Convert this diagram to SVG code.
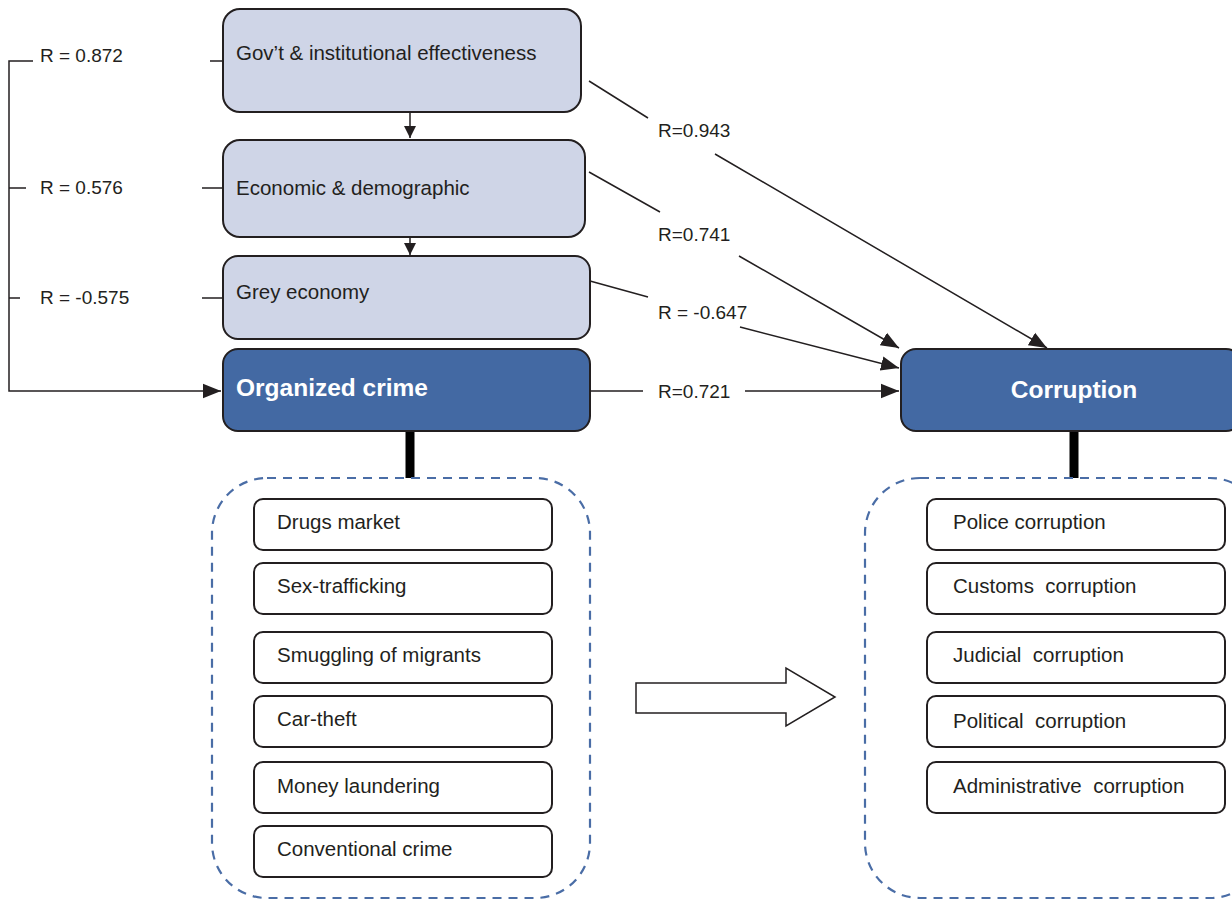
<svg xmlns="http://www.w3.org/2000/svg" width="1232" height="899" viewBox="0 0 1232 899">
<style>
text{font-family:"Liberation Sans",Arial,sans-serif;fill:#231f20;white-space:pre}
.lbl{font-size:20.5px}
.r{font-size:19px}
.light{fill:#cfd5e7;stroke:#231f20;stroke-width:2}
.dark{fill:#4369a3;stroke:#231f20;stroke-width:2}
.title{font-size:24.5px;font-weight:bold;fill:#ffffff}
.item{fill:#ffffff;stroke:#231f20;stroke-width:2}
.dash{fill:none;stroke:#4a6da6;stroke-width:2.2;stroke-dasharray:9 7}
.ln{fill:none;stroke:#231f20;stroke-width:1.5}
.bar{stroke:#000;stroke-width:9}
</style>
<defs>
<marker id="ah" viewBox="0 0 10 10" refX="10" refY="5" markerWidth="12" markerHeight="12" markerUnits="userSpaceOnUse" orient="auto">
<path d="M0,0 L10,5 L0,10 z" fill="#231f20"/>
</marker>
<marker id="ahL" viewBox="0 0 10 10" refX="10" refY="5" markerWidth="18" markerHeight="18" markerUnits="userSpaceOnUse" orient="auto">
<path d="M0,1 L10,5 L0,9 z" fill="#231f20"/>
</marker>
</defs>

<g id="connectors">
<path class="ln" d="M410,112 V138" marker-end="url(#ah)"/>
<path class="ln" d="M410,237 V255" marker-end="url(#ah)"/>
<path class="ln" d="M33,61 H9 V391 H221" marker-end="url(#ahL)"/>
<path class="ln" d="M9,188 H26 M9,298 H20"/>
<path class="ln" d="M210,61 H223 M202,188 H223 M202,298 H223"/>
<path class="ln" d="M589,81 L648,118 M715,154 L1047,348" marker-end="url(#ahL)"/>
<path class="ln" d="M589,172 L660,212 M739,256 L899,348" marker-end="url(#ahL)"/>
<path class="ln" d="M590,281 L648,297 M740,327 L899,368" marker-end="url(#ahL)"/>
<path class="ln" d="M590,391 L643,391 M745,391 L899,391" marker-end="url(#ahL)"/>
<text class="r" x="40" y="62">R = 0.872</text>
<text class="r" x="40" y="194">R = 0.576</text>
<text class="r" x="40" y="304">R = -0.575</text>
<text class="r" x="658" y="137">R=0.943</text>
<text class="r" x="658" y="241">R=0.741</text>
<text class="r" x="658" y="319">R = -0.647</text>
<text class="r" x="658" y="398">R=0.721</text>
<line class="bar" x1="410" y1="431" x2="410" y2="478"/>
<line class="bar" x1="1074" y1="431" x2="1074" y2="478"/>
<path d="M636,683 H786 V668 L835,697 L786,726 V713 H636 Z" fill="#ffffff" stroke="#231f20" stroke-width="1.5"/>
</g>

<g id="gov"><rect class="light" x="223" y="9" width="358" height="103" rx="17"/><text class="lbl" x="236" y="60">Gov’t &amp; institutional effectiveness</text></g>
<g id="econ"><rect class="light" x="223" y="140" width="362" height="97" rx="17"/><text class="lbl" x="236" y="195">Economic &amp; demographic</text></g>
<g id="grey"><rect class="light" x="223" y="256" width="367" height="83" rx="15"/><text class="lbl" x="236" y="299">Grey economy</text></g>
<g id="orgcrime"><rect class="dark" x="223" y="349" width="367" height="82" rx="15"/><text class="title" x="236" y="396">Organized crime</text></g>
<g id="corruption"><rect class="dark" x="901" y="349" width="340" height="82" rx="15"/><text class="title" x="1074" y="398" text-anchor="middle">Corruption</text></g>

<g id="crime-group">
<rect class="dash" x="212" y="478" width="378" height="420" rx="55"/>
<g id="drugs"><rect class="item" x="254" y="499" width="298" height="51" rx="9"/><text class="lbl" x="277" y="529">Drugs market</text></g>
<g id="sex"><rect class="item" x="254" y="563" width="298" height="51" rx="9"/><text class="lbl" x="277" y="593">Sex-trafficking</text></g>
<g id="smuggling"><rect class="item" x="254" y="632" width="298" height="51" rx="9"/><text class="lbl" x="277" y="662">Smuggling of migrants</text></g>
<g id="car"><rect class="item" x="254" y="696" width="298" height="51" rx="9"/><text class="lbl" x="277" y="726">Car-theft</text></g>
<g id="money"><rect class="item" x="254" y="762" width="298" height="51" rx="9"/><text class="lbl" x="277" y="793">Money laundering</text></g>
<g id="conventional"><rect class="item" x="254" y="826" width="298" height="51" rx="9"/><text class="lbl" x="277" y="856">Conventional crime</text></g>
</g>

<g id="corruption-group">
<rect class="dash" x="865" y="478" width="400" height="420" rx="55"/>
<g id="police"><rect class="item" x="927" y="499" width="298" height="51" rx="9"/><text class="lbl" x="953" y="529">Police corruption</text></g>
<g id="customs"><rect class="item" x="927" y="563" width="298" height="51" rx="9"/><text class="lbl" x="953" y="593">Customs  corruption</text></g>
<g id="judicial"><rect class="item" x="927" y="632" width="298" height="51" rx="9"/><text class="lbl" x="953" y="662">Judicial  corruption</text></g>
<g id="political"><rect class="item" x="927" y="696" width="298" height="51" rx="9"/><text class="lbl" x="953" y="728">Political  corruption</text></g>
<g id="admin"><rect class="item" x="927" y="762" width="298" height="51" rx="9"/><text class="lbl" x="953" y="793">Administrative  corruption</text></g>
</g>
</svg>
